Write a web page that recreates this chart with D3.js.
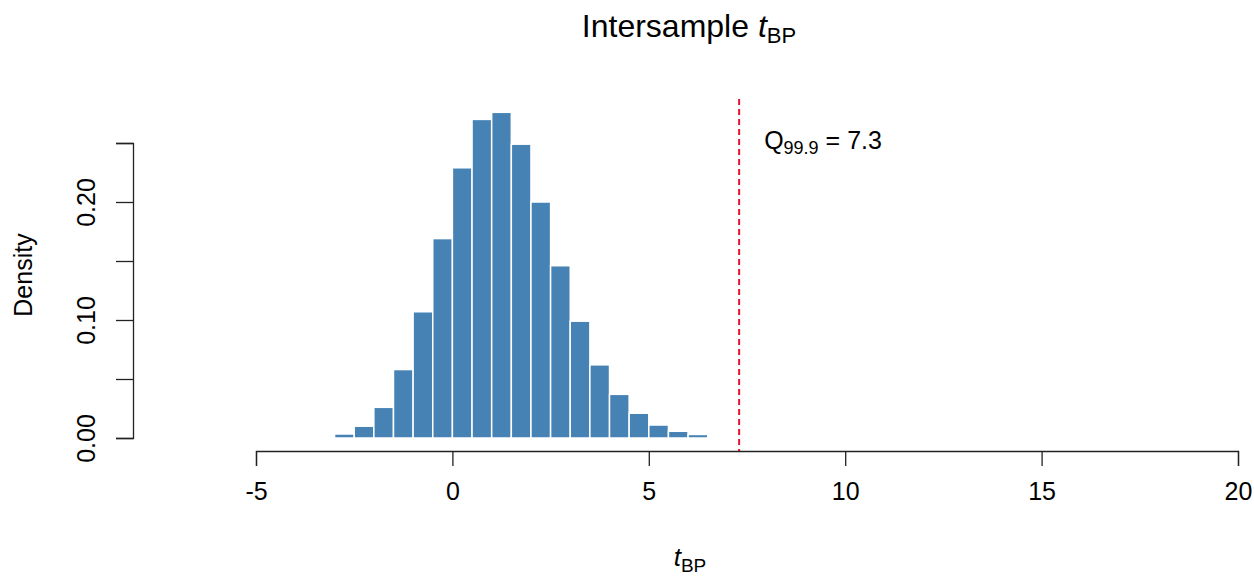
<!DOCTYPE html>
<html>
<head>
<meta charset="utf-8">
<script src="https://cdn.jsdelivr.net/npm/d3@7"></script>
<style>
  body { margin: 0; background: #fff; }
  text { font-family: "Liberation Sans", Arial, sans-serif; fill: #000; }
</style>
</head>
<body>
<div id="chart"></div>
<script>
// histogram bins (width 0.5) and densities
const binStarts = [-3, -2.5, -2, -1.5, -1, -0.5, 0, 0.5, 1, 1.5, 2, 2.5, 3, 3.5, 4, 4.5, 5, 5.5, 6, 6.5];
const densities = [0.0034, 0.010, 0.026, 0.058, 0.107, 0.169, 0.229, 0.270, 0.276, 0.249,
                   0.200, 0.146, 0.099, 0.062, 0.037, 0.021, 0.011, 0.0057, 0.003, 0.0012];
const binWidth = 0.5;
const xTicks = [-5, 0, 5, 10, 15, 20];
const yTicks = [0, 0.05, 0.10, 0.15, 0.20, 0.25];
const yLabelled = [0, 0.10, 0.20];
const q999 = 7.3;

const width = 1254, height = 576;
const plot = { left: 133, right: 1245, top: 99, bottom: 451 };

const svg = d3.select("#chart").append("svg")
    .attr("width", width)
    .attr("height", height);

// x: -5 -> 256px, 20 -> 1238px
const x = d3.scaleLinear().domain([-5, 20]).range([256, 1238]);
// y: 0 -> 438px, 0.25 -> 143px
const y = d3.scaleLinear().domain([0, 0.25]).range([438, 143]);

// bars
svg.append("g")
    .selectAll("rect")
    .data(binStarts)
    .enter().append("rect")
    .attr("x", d => x(d))
    .attr("width", d => x(d + binWidth) - x(d))
    .attr("y", (d, i) => y(densities[i]))
    .attr("height", (d, i) => y(0) - y(densities[i]))
    .attr("fill", "#4682B4")
    .attr("stroke", "#fff")
    .attr("stroke-width", 1.5);

// quantile line
svg.append("line")
    .attr("x1", x(q999)).attr("x2", x(q999))
    .attr("y1", plot.top).attr("y2", plot.bottom)
    .attr("stroke", "#e8132b")
    .attr("stroke-width", 2)
    .attr("stroke-dasharray", "6,4");

const ann = svg.append("text")
    .attr("x", x(q999) + 25)
    .attr("y", 149)
    .style("font-size", "25px");
ann.append("tspan").text("Q");
ann.append("tspan").attr("dy", 5).style("font-size", "18px").text("99.9");
ann.append("tspan").attr("dy", -5).text(" = " + q999);

// x axis
const xAxis = svg.append("g")
    .attr("transform", `translate(0,${plot.bottom})`)
    .call(d3.axisBottom(x).tickValues(xTicks).tickSize(15).tickPadding(16).tickFormat(d => String(d)));
xAxis.selectAll("path, line").attr("stroke", "#222").attr("stroke-width", 1.3);
xAxis.selectAll("text").style("font-size", "25px");

// y axis
const yAxis = svg.append("g")
    .attr("transform", `translate(${plot.left},0)`)
    .call(d3.axisLeft(y).tickValues(yTicks).tickSize(17)
        .tickFormat(d => yLabelled.some(v => Math.abs(v - d) < 1e-9) ? d3.format(".2f")(d) : ""));
yAxis.selectAll("path, line").attr("stroke", "#222").attr("stroke-width", 1.3);
yAxis.selectAll("text")
    .style("font-size", "25px")
    .attr("text-anchor", "middle")
    .attr("x", 0).attr("dy", 0)
    .attr("transform", "translate(-38,0) rotate(-90)");

// title
const title = svg.append("text")
    .attr("x", 689)
    .attr("y", 37)
    .attr("text-anchor", "middle")
    .style("font-size", "32px");
title.append("tspan").text("Intersample ");
title.append("tspan").style("font-style", "italic").text("t");
title.append("tspan").attr("dy", 6).style("font-size", "22px").text("BP");

// x label
const xl = svg.append("text")
    .attr("x", 690)
    .attr("y", 566)
    .attr("text-anchor", "middle")
    .style("font-size", "26px");
xl.append("tspan").style("font-style", "italic").text("t");
xl.append("tspan").attr("dy", 6).style("font-size", "19px").text("BP");

// y label
svg.append("text")
    .attr("transform", `translate(32,${(plot.top + plot.bottom) / 2}) rotate(-90)`)
    .attr("text-anchor", "middle")
    .style("font-size", "25px")
    .text("Density");
</script>
</body>
</html>
